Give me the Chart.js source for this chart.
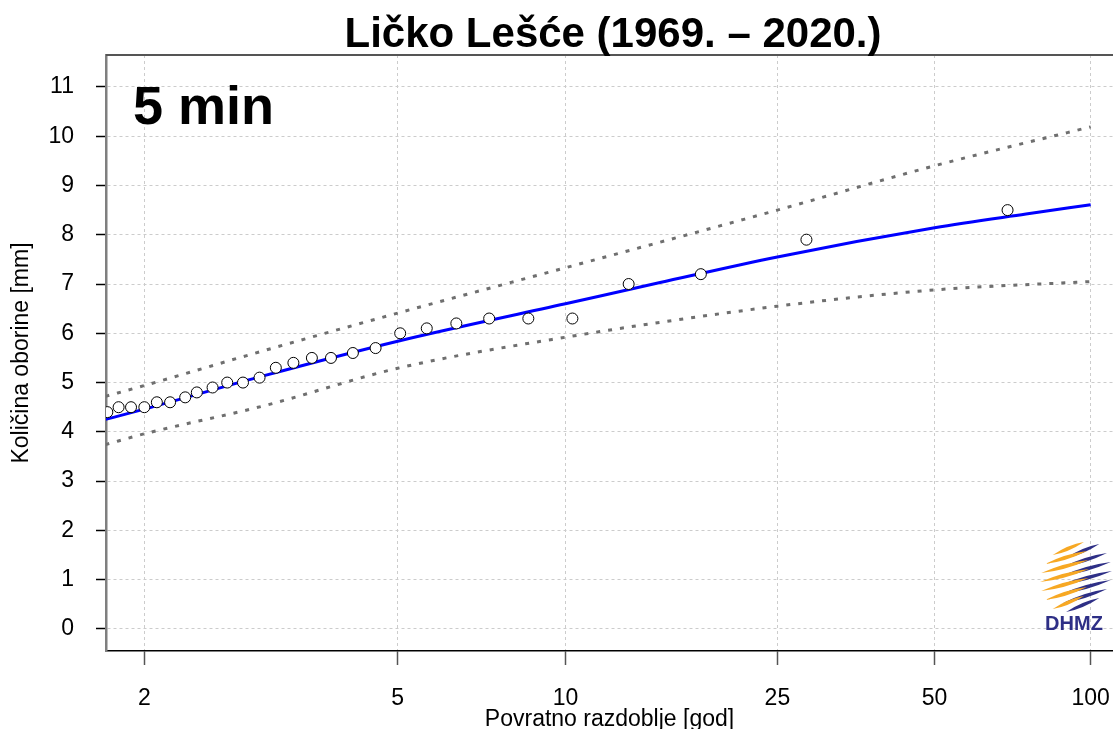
<!DOCTYPE html>
<html lang="hr">
<head>
<meta charset="UTF-8">
<title>Ličko Lešće (1969. – 2020.)</title>
<script src="https://cdn.jsdelivr.net/npm/chart.js"></script>
<style>
  html, body { margin: 0; padding: 0; background: #fff; }
  #wrap { width: 1113px; height: 729px; }
</style>
</head>
<body>
<div id="wrap"><canvas id="gevChart" width="1113" height="729"></canvas></div>
<script>
const chartTitle = 'Ličko Lešće (1969. – 2020.)';
const durationLabel = '5 min';
const xAxisTitle = 'Povratno razdoblje [god]';
const yAxisTitle = 'Količina oborine [mm]';

// povratno razdoblje (god) na osi x, oznake
const xTickYears = [2, 5, 10, 25, 50, 100];
const yTicks = [0, 1, 2, 3, 4, 5, 6, 7, 8, 9, 10, 11];

// izmjerene maksimalne količine (kružići)
const obsYears = [1.79, 1.85, 1.92, 2.00, 2.08, 2.17, 2.28, 2.37, 2.50, 2.63, 2.78, 2.95, 3.13, 3.34,
                  3.58, 3.85, 4.19, 4.58, 5.05, 5.62, 6.34, 7.26, 8.55, 10.3, 13.1, 17.9, 28.4, 69.1];
const obsMm = [4.4, 4.5, 4.5, 4.5, 4.6, 4.6, 4.7, 4.8, 4.9, 5.0, 5.0, 5.1, 5.3, 5.4,
               5.5, 5.5, 5.6, 5.7, 6.0, 6.1, 6.2, 6.3, 6.3, 6.3, 7.0, 7.2, 7.9, 8.5];

// prilagođena razdioba (plava linija)
const fitYears = [1.75, 2, 3, 5, 10, 15, 25, 50, 75, 100];
const fitMm = [4.22, 4.46, 5.14, 5.84, 6.60, 7.03, 7.55, 8.14, 8.42, 8.61];

// granice pouzdanosti (točkaste linije)
const ciYears = [1.78, 2, 3, 5, 10, 25, 50, 100];
const ciUpperMm = [4.72, 4.94, 5.65, 6.41, 7.33, 8.50, 9.40, 10.19];
const ciLowerMm = [3.74, 3.96, 4.53, 5.29, 5.92, 6.55, 6.88, 7.05];

// Gumbelova reducirana varijabla
const gumbel = T => -Math.log(-Math.log(1 - 1 / T));
const toXY = (years, vals) => years.map((t, i) => ({ x: gumbel(t), y: vals[i] }));

const FONT = '"Liberation Sans", Arial, sans-serif';
Chart.defaults.font.family = FONT;
Chart.defaults.color = '#000';

function drawLogo(ctx, cx, cy) {
    // stilizirani DHMZ znak
    const stripe = (x1, y1, x2, y2, w, color) => {
        const mx = (x1 + x2) / 2, my = (y1 + y2) / 2;
        ctx.fillStyle = color;
        ctx.beginPath();
        ctx.moveTo(x1, y1);
        ctx.quadraticCurveTo(mx, my - w, x2, y2);
        ctx.quadraticCurveTo(mx, my + w, x1, y1);
        ctx.fill();
    };
    for (let i = 0; i < 7; i++) {
        const y0 = cy - 27 + i * 9;
        const half = Math.sqrt(Math.max(0, 35 * 35 - (y0 - cy) * (y0 - cy)));
        stripe(cx - half, y0 + 6, cx + half * 0.4, y0 - 7, 4, '#f7a823');
        stripe(cx - half * 0.4, y0 + 9, cx + half + 2, y0 - 5, 4, '#2e2f86');
    }
    ctx.fillStyle = '#2e2f86';
    ctx.font = 'bold 20px ' + FONT;
    ctx.textAlign = 'center';
    ctx.textBaseline = 'alphabetic';
    ctx.fillText('DHMZ', cx - 1, 630);
}

const overlay = {
    id: 'overlay',
    afterDraw(chart) {
        const { ctx, chartArea } = chart;
        ctx.save();
        ctx.strokeStyle = '#555';
        ctx.lineWidth = 2;
        ctx.beginPath();
        ctx.moveTo(chartArea.left, chartArea.top);
        ctx.lineTo(chartArea.right, chartArea.top);
        ctx.stroke();

        ctx.fillStyle = '#000';
        ctx.textBaseline = 'alphabetic';
        ctx.textAlign = 'center';
        ctx.font = 'bold 42px ' + FONT;
        ctx.fillText(chartTitle, 613, 47);

        ctx.textAlign = 'left';
        ctx.font = 'bold 54px ' + FONT;
        ctx.fillText(durationLabel, 133, 124);

        drawLogo(ctx, 1075, 576);
        ctx.restore();
    }
};

const ctx = document.getElementById('gevChart').getContext('2d');
new Chart(ctx, {
    type: 'scatter',
    data: {
        datasets: [
            {
                label: 'Mjerenja',
                data: toXY(obsYears, obsMm),
                showLine: false,
                pointRadius: 5.5,
                pointBackgroundColor: '#fff',
                pointBorderColor: '#000',
                pointBorderWidth: 1,
                clip: 0,
                order: 0
            },
            {
                label: 'Razdioba',
                data: toXY(fitYears, fitMm),
                showLine: true,
                borderColor: '#0000ff',
                borderWidth: 3,
                pointRadius: 0,
                cubicInterpolationMode: 'monotone',
                clip: 0,
                order: 1
            },
            {
                label: 'Gornja granica',
                data: toXY(ciYears, ciUpperMm),
                showLine: true,
                borderColor: '#6f6f6f',
                borderWidth: 3,
                borderDash: [4, 8],
                pointRadius: 0,
                cubicInterpolationMode: 'monotone',
                clip: 0,
                order: 2
            },
            {
                label: 'Donja granica',
                data: toXY(ciYears, ciLowerMm),
                showLine: true,
                borderColor: '#6f6f6f',
                borderWidth: 3,
                borderDash: [4, 8],
                pointRadius: 0,
                cubicInterpolationMode: 'monotone',
                clip: 0,
                order: 2
            }
        ]
    },
    options: {
        responsive: false,
        animation: false,
        events: [],
        layout: { autoPadding: false, padding: { top: 55, right: 0, bottom: 0, left: 0 } },
        plugins: {
            legend: { display: false },
            tooltip: { enabled: false }
        },
        scales: {
            x: {
                type: 'linear',
                min: 0.195,
                max: 4.70,
                afterBuildTicks: s => { s.ticks = xTickYears.map(t => ({ value: gumbel(t) })); },
                afterFit: s => { s.height = 78; s.paddingLeft = 0; s.paddingRight = 0; },
                ticks: {
                    callback: (v, i) => xTickYears[i],
                    font: { size: 23 },
                    color: '#000',
                    padding: 20,
                    maxRotation: 0,
                    autoSkip: false
                },
                grid: {
                    color: '#cccccc',
                    lineWidth: 1,
                    tickLength: 14,
                    tickColor: '#555',
                    tickWidth: 1.5,
                    tickBorderDash: []
                },
                border: { display: true, color: '#000', width: 1.5, dash: [3, 3] },
                title: {
                    display: true,
                    text: xAxisTitle,
                    font: { size: 23 },
                    color: '#000',
                    padding: { top: 0, bottom: -4 }
                }
            },
            y: {
                type: 'linear',
                min: -0.448,
                max: 11.648,
                afterBuildTicks: s => { s.ticks = yTicks.map(v => ({ value: v })); },
                afterFit: s => { s.width = 106; s.paddingTop = 0; s.paddingBottom = 0; },
                ticks: {
                    font: { size: 23 },
                    color: '#000',
                    padding: 22
                },
                grid: {
                    color: '#cccccc',
                    lineWidth: 1,
                    tickLength: 10,
                    tickColor: '#000',
                    tickWidth: 1.5,
                    tickBorderDash: []
                },
                border: { display: true, color: '#7f7f7f', width: 2.5, dash: [3, 3] },
                title: {
                    display: true,
                    text: yAxisTitle,
                    font: { size: 23 },
                    color: '#000',
                    padding: { top: 8, bottom: 0 }
                }
            }
        }
    },
    plugins: [overlay]
});
</script>
</body>
</html>
